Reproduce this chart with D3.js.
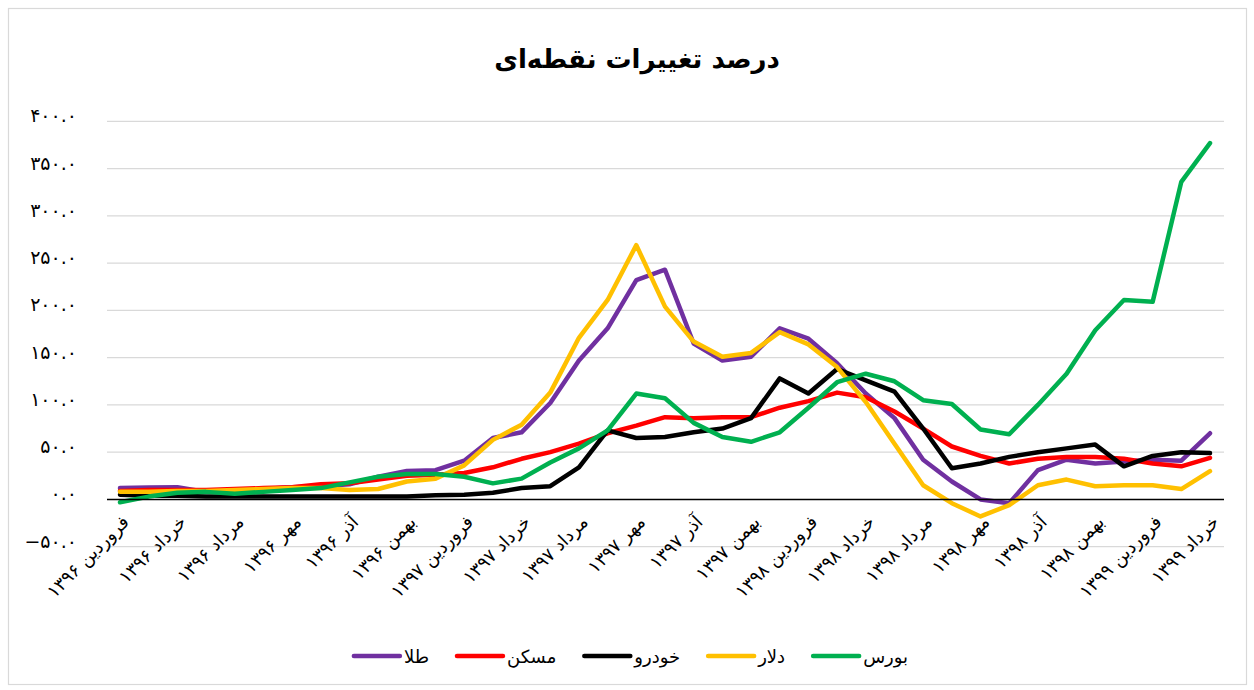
<!DOCTYPE html>
<html>
<head>
<meta charset="utf-8">
<script src="https://cdn.jsdelivr.net/npm/d3@7"></script>
<style>
	body { margin: 0; background: #fff; }
	text { font-family: "DejaVu Sans", sans-serif; }
</style>
</head>
<body>
<script>

//	categories (every month, from farvardin 1396 to khordad 1399)
var months = [
	"فروردین ۱۳۹۶", "اردیبهشت ۱۳۹۶", "خرداد ۱۳۹۶", "تیر ۱۳۹۶", "مرداد ۱۳۹۶", "شهریور ۱۳۹۶",
	"مهر ۱۳۹۶", "آبان ۱۳۹۶", "آذر ۱۳۹۶", "دی ۱۳۹۶", "بهمن ۱۳۹۶", "اسفند ۱۳۹۶",
	"فروردین ۱۳۹۷", "اردیبهشت ۱۳۹۷", "خرداد ۱۳۹۷", "تیر ۱۳۹۷", "مرداد ۱۳۹۷", "شهریور ۱۳۹۷",
	"مهر ۱۳۹۷", "آبان ۱۳۹۷", "آذر ۱۳۹۷", "دی ۱۳۹۷", "بهمن ۱۳۹۷", "اسفند ۱۳۹۷",
	"فروردین ۱۳۹۸", "اردیبهشت ۱۳۹۸", "خرداد ۱۳۹۸", "تیر ۱۳۹۸", "مرداد ۱۳۹۸", "شهریور ۱۳۹۸",
	"مهر ۱۳۹۸", "آبان ۱۳۹۸", "آذر ۱۳۹۸", "دی ۱۳۹۸", "بهمن ۱۳۹۸", "اسفند ۱۳۹۸",
	"فروردین ۱۳۹۹", "اردیبهشت ۱۳۹۹", "خرداد ۱۳۹۹"
];

//	series values (percent change)
var gold    = [12, 12.5, 13, 8, 9, 11, 13, 14, 16, 24, 30, 31, 41, 65, 71, 102, 147, 181, 232, 243, 165, 147, 151, 181, 170, 144, 112, 86, 42, 19, 0, -4, 31, 42, 38, 40, 42, 41, 70];
var housing = [9, 10, 10, 10, 11, 12, 13, 16, 17, 21, 25, 26, 28, 34, 43, 50, 59, 70, 78, 87, 86, 87, 87, 97, 104, 113, 108, 93, 75, 56, 46, 38, 43, 45, 45, 43, 38, 35, 44];
var car     = [5, 4, 4, 3, 3, 3, 3, 3, 3, 3, 3, 4.5, 5, 7, 12, 14, 34, 73, 65, 66, 71, 75, 86, 128, 112, 138, 126, 114, 75, 33, 38, 45, 50, 54, 58, 35, 46, 50, 49];
var dollar  = [8, 8, 9, 9, 10, 11, 12, 12, 10, 11, 19, 22, 36, 63, 79, 113, 171, 211, 269, 204, 167, 151, 155, 177, 164, 140, 103, 59, 15, -4, -18, -6, 15, 21, 14, 15, 15, 11, 30];
var bourse  = [-3, 3, 7, 8, 6, 8, 10, 12, 18, 24, 27, 27, 24, 17, 22, 39, 54, 73, 112, 107, 81, 66, 61, 71, 97, 124, 133, 125, 105, 101, 74, 69, 100, 133, 179, 211, 209, 336, 377];

//	tick values
var yTicks = [-50, 0, 50, 100, 150, 200, 250, 300, 350, 400];

var seriesNames  = ["طلا", "مسکن", "خودرو", "دلار", "بورس"];
var seriesColors = ["#7030A0", "#FF0000", "#000000", "#FFC000", "#00B050"];
var seriesData   = [gold, housing, car, dollar, bourse];

var width = 1254, height = 690;

var svg = d3.select("body")
	.append("svg")
	  .attr("width", width)
	  .attr("height", height);

//	chart frame
svg.append("rect")
	.attr("x", 8.5).attr("y", 8.5)
	.attr("width", 1238).attr("height", 676)
	.attr("fill", "#fff")
	.attr("stroke", "#d9d9d9")
	.attr("stroke-width", 1.2);

//	title
svg.append("text")
	.attr("x", 637)
	.attr("y", 68)
	.attr("text-anchor", "middle")
	.style("font-size", "26px")
	.style("font-weight", "bold")
	.text("درصد تغییرات نقطه‌ای");

var x = d3.scalePoint()
	.domain(d3.range(months.length))
	.range([120, 1210]);

var y = d3.scaleLinear()
	.domain([-50, 400])
	.range([546.7, 121.3]);

var gridLeft = 107, gridRight = 1224;

function toFa(s) {
	return s.replace(/[0-9]/g, function(c) { return "۰۱۲۳۴۵۶۷۸۹"[+c]; });
}

//	horizontal grid
svg.append("g")
	.selectAll("line")
	.data(yTicks.filter(function(d) { return d !== 0; }))
	.enter().append("line")
	  .attr("x1", gridLeft)
	  .attr("x2", gridRight)
	  .attr("y1", function(d) { return y(d); })
	  .attr("y2", function(d) { return y(d); })
	  .attr("stroke", "#d9d9d9")
	  .attr("stroke-width", 1.3);

//	y labels
svg.append("g")
	.selectAll("text")
	.data(yTicks)
	.enter().append("text")
	  .attr("x", 77)
	  .attr("y", function(d) { return y(d) + 1; })
	  .attr("text-anchor", "end")
	  .style("font-size", "19px")
	  .text(function(d) { return toFa(d3.format(".1f")(d)); });

//	x labels, every second month
svg.append("g")
	.selectAll("text")
	.data(d3.range(0, months.length, 2))
	.enter().append("text")
	  .attr("transform", function(i) { return "translate(" + (x(i) + 5) + ",518) rotate(-45)"; })
	  .attr("text-anchor", "end")
	  .attr("dy", "0.4em")
	  .style("font-size", "18px")
	  .text(function(i) { return months[i]; });

//	series lines
var line = d3.line()
	.x(function(d, i) { return x(i); })
	.y(function(d) { return y(d); });

svg.append("g")
	.selectAll("path")
	.data(seriesData)
	.enter().append("path")
	  .attr("d", line)
	  .attr("fill", "none")
	  .attr("stroke", function(d, i) { return seriesColors[i]; })
	  .attr("stroke-width", 4.5)
	  .attr("stroke-linejoin", "round")
	  .attr("stroke-linecap", "round");

//	zero axis
svg.append("line")
	.attr("x1", gridLeft)
	.attr("x2", gridRight)
	.attr("y1", y(0))
	.attr("y2", y(0))
	.attr("stroke", "#000")
	.attr("stroke-width", 1.5);

// legend
var legend = svg.append("g");
var lx = 0;
seriesNames.forEach(function(name, i) {
	legend.append("line")
		.attr("x1", lx + 2).attr("x2", lx + 48)
		.attr("y1", 656).attr("y2", 656)
		.attr("stroke", seriesColors[i])
		.attr("stroke-width", 4.5)
		.attr("stroke-linecap", "round");
	var t = legend.append("text")
		.attr("x", lx + 52)
		.attr("y", 663)
		.style("font-size", "18px")
		.text(name);
	lx += 52 + t.node().getComputedTextLength() + 26;
});
lx -= 26;
legend.attr("transform", "translate(" + (630 - lx / 2) + ",0)");

</script>
</body>
</html>
